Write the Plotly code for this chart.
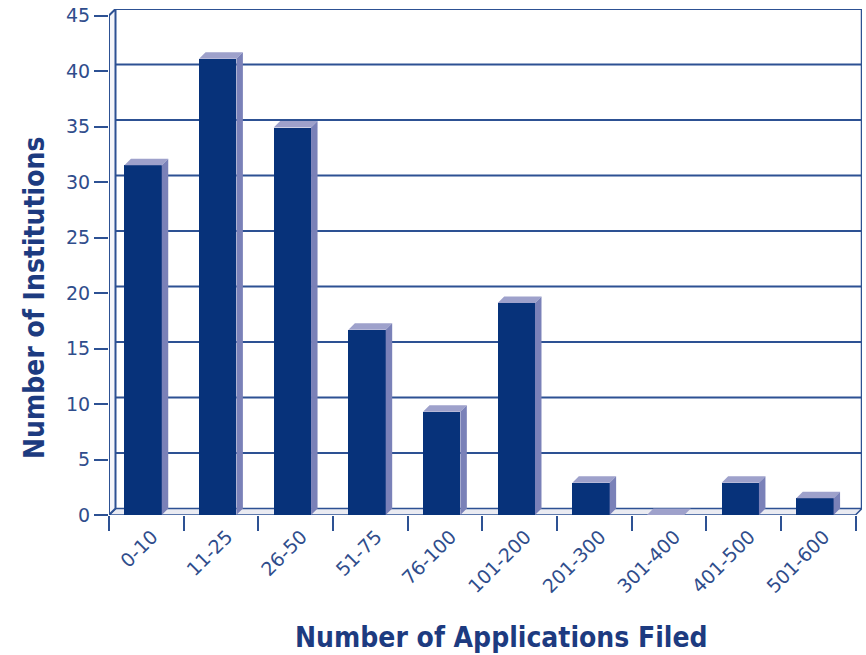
import plotly.graph_objects as go

# Application counts by bracket
categories = ["0-10", "11-25", "26-50", "51-75", "76-100",
              "101-200", "201-300", "301-400", "401-500", "501-600"]
institutions = [31.5, 41.1, 34.9, 16.7, 9.3, 19.1, 2.9, 0, 2.9, 1.5]
y_ticks = list(range(0, 50, 5))
y_max = 45

# Figure geometry (pixels)
FIG_W, FIG_H = 866, 655
ML, MR, MT, MB = 109, 4, 9, 140
DEPTH_X, DEPTH_Y = 6.5, 6.5          # oblique depth of the 3-D box

plot_w = FIG_W - ML - MR
plot_h = FIG_H - MT - MB
n = len(categories)
px_per_cat = (plot_w - DEPTH_X) / n
px_per_unit = (plot_h - DEPTH_Y) / y_max
dxu = DEPTH_X / px_per_cat            # depth in category units
dyu = DEPTH_Y / px_per_unit           # depth in value units

FRONT = "#07327a"
TOP = "#9ea1cb"
SIDE = "#7a81b8"
LINE = "#2d5193"
FLOOR = "#eaebf2"
TEXT = "#2f4d8c"
TITLE = "#1d3b80"

bar_w = 0.5
bar_off = -(bar_w + dxu) / 2

fig = go.Figure()
fig.add_trace(go.Bar(
    x=categories, y=institutions, width=bar_w, offset=bar_off,
    marker=dict(color=FRONT, line=dict(width=0)), hoverinfo="x+y",
))

shapes = []
x_left, x_right = -0.5, n - 0.5

# floor
shapes.append(dict(
    type="path", layer="below", xref="x", yref="y",
    path=f"M {x_left},0 L {x_right},0 L {x_right+dxu},{dyu} L {x_left+dxu},{dyu} Z",
    fillcolor=FLOOR, line=dict(color=LINE, width=1.5)))
# left wall
shapes.append(dict(
    type="path", layer="below", xref="x", yref="y",
    path=f"M {x_left},0 L {x_left+dxu},{dyu} L {x_left+dxu},{y_max+dyu} L {x_left},{y_max} Z",
    fillcolor="#f4f5fa", line=dict(color=LINE, width=2)))
# back-wall grid lines
for v in y_ticks[1:]:
    shapes.append(dict(
        type="line", layer="below", xref="x", yref="y",
        x0=x_left + dxu, x1=x_right + dxu, y0=v + dyu, y1=v + dyu,
        line=dict(color=LINE, width=2)))
# back-wall right edge
shapes.append(dict(
    type="line", layer="below", xref="x", yref="y",
    x0=x_right + dxu, x1=x_right + dxu, y0=dyu, y1=y_max + dyu,
    line=dict(color=LINE, width=2.5)))

# top and side faces of each bar
for i, v in enumerate(institutions):
    x0 = i + bar_off
    x1 = x0 + bar_w
    shapes.append(dict(
        type="path", layer="above", xref="x", yref="y",
        path=f"M {x0},{v} L {x1},{v} L {x1+dxu},{v+dyu} L {x0+dxu},{v+dyu} Z",
        fillcolor=TOP, line=dict(width=0)))
    if v > 0:
        shapes.append(dict(
            type="path", layer="above", xref="x", yref="y",
            path=f"M {x1},0 L {x1},{v} L {x1+dxu},{v+dyu} L {x1+dxu},{dyu} Z",
            fillcolor=SIDE, line=dict(width=0)))

tick_font = dict(family="DejaVu Sans, Open Sans, sans-serif", size=19, color=TEXT)
title_font = dict(family="Liberation Sans Narrow, DejaVu Sans Condensed, Roboto Condensed, Arial Narrow, sans-serif",
                  size=28, color=TITLE)

fig.update_layout(
    width=FIG_W, height=FIG_H,
    margin=dict(l=ML, r=MR, t=MT, b=MB, pad=0),
    paper_bgcolor="white", plot_bgcolor="white",
    showlegend=False, bargap=0,
    shapes=shapes,
    xaxis=dict(
        type="category", range=[x_left, x_right + dxu],
        tickson="boundaries", ticks="outside", ticklen=15, tickwidth=2,
        tickcolor=LINE, tickangle=-45, tickfont=tick_font,
        ticklabelstandoff=6, ticklabelshift=6,
        showgrid=False, showline=False, zeroline=False,
    ),
    yaxis=dict(
        range=[0, y_max + dyu], tickvals=y_ticks,
        ticks="outside", ticklen=14, tickwidth=2, tickcolor=LINE,
        tickfont=tick_font, showgrid=False, showline=False, zeroline=False,
    ),
    annotations=[
        dict(text="<b>Number of Applications Filed</b>", xref="paper", yref="paper",
             x=(501 - ML) / plot_w, y=(FIG_H - MB - 637) / plot_h,
             xanchor="center", yanchor="middle", showarrow=False, font=title_font),
        dict(text="<b>Number of Institutions</b>", xref="paper", yref="paper",
             x=(34 - ML) / plot_w, y=(FIG_H - MB - 298) / plot_h,
             xanchor="center", yanchor="middle", showarrow=False, textangle=-90,
             font=title_font),
    ],
)

fig.write_html("out.html")
